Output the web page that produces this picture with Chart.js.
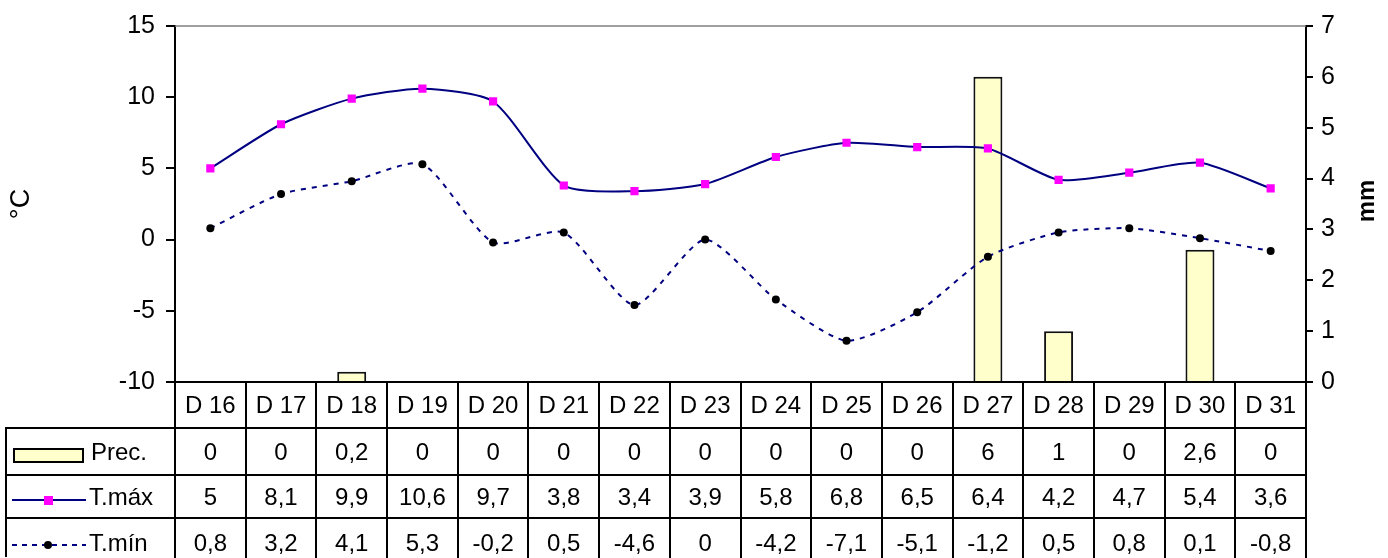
<!DOCTYPE html>
<html>
<head>
<meta charset="utf-8">
<script src="https://cdn.jsdelivr.net/npm/chart.js@4.4.1/dist/chart.umd.min.js"></script>
<style>
  html, body { margin: 0; padding: 0; background: #fff; }
  #wrap { position: relative; width: 1388px; height: 558px; overflow: hidden; }
  #wrap div { position: absolute; }
  #c { position: absolute; left: 0; top: 0; }
  #tbl { left: 0; top: 0; width: 1388px; height: 558px; }
  .txt { font-family: "Liberation Sans", Arial, sans-serif; font-size: 24px; color: #000;
         display: flex; align-items: center; justify-content: center; white-space: nowrap; }
</style>
</head>
<body>
<div id="wrap">
  <canvas id="c" width="1388" height="558"></canvas>
  <div id="tbl"></div>
</div>
<script>
const categories = ["D 16", "D 17", "D 18", "D 19", "D 20", "D 21", "D 22", "D 23",
                    "D 24", "D 25", "D 26", "D 27", "D 28", "D 29", "D 30", "D 31"];
const prec = [0, 0, 0.2, 0, 0, 0, 0, 0, 0, 0, 0, 6, 1, 0, 2.6, 0];
const tMax = [5, 8.1, 9.9, 10.6, 9.7, 3.8, 3.4, 3.9, 5.8, 6.8, 6.5, 6.4, 4.2, 4.7, 5.4, 3.6];
const tMin = [0.8, 3.2, 4.1, 5.3, -0.2, 0.5, -4.6, 0, -4.2, -7.1, -5.1, -1.2, 0.5, 0.8, 0.1, -0.8];
const seriesNames = ["Prec.", "T.máx", "T.mín"];

const FONT = "'Liberation Sans', Arial, sans-serif";
const NAVY = "#000080";
const rowHeights = [46, 47, 43, 50];

function fmt(v) { return String(v).replace(".", ","); }

function el(parent, css, text, cls) {
  const d = document.createElement("div");
  if (cls) d.className = cls;
  Object.assign(d.style, css);
  if (text !== undefined) d.textContent = text;
  parent.appendChild(d);
  return d;
}

// table under the plot, placed from the x scale
const tablePlugin = {
  id: "dataTable",
  afterLayout(chart) {
    const tbl = document.getElementById("tbl");
    tbl.innerHTML = "";
    const x = chart.scales.x;
    const area = chart.chartArea;
    const colW = x.width / categories.length;
    const tops = [area.bottom];
    rowHeights.forEach((h, i) => tops.push(tops[i] + h));
    const leftEdge = 5;

    // vertical lines
    for (let k = 0; k <= categories.length; k++) {
      const bx = Math.round(x.left + k * colW) - 1;
      el(tbl, { left: bx + "px", top: area.bottom + "px", width: "2px", height: (558 - area.bottom) + "px", background: "#000" });
    }
    el(tbl, { left: leftEdge + "px", top: (tops[1] - 1) + "px", width: "2px", height: (558 - tops[1]) + "px", background: "#000" });
    // horizontal lines
    for (let r = 1; r < 4; r++) {
      el(tbl, { left: leftEdge + "px", top: (tops[r] - 1) + "px", width: (x.right - leftEdge + 1) + "px", height: "2px", background: "#000" });
    }

    const rows = [categories, prec.map(fmt), tMax.map(fmt), tMin.map(fmt)];
    rows.forEach((vals, r) => {
      vals.forEach((v, i) => {
        el(tbl, { left: (x.left + i * colW) + "px", top: tops[r] + "px", width: colW + "px", height: rowHeights[r] + "px" }, v, "txt");
      });
    });

    // legend keys
    const mid = r => tops[r] + rowHeights[r] / 2;
    el(tbl, { left: "13px", top: Math.round(mid(1) - 4) + "px", width: "71px", height: "15px", background: "#FFFFCC", border: "2px solid #000", boxSizing: "border-box" });
    el(tbl, { left: "12px", top: Math.round(mid(2) + 2.5) + "px", width: "74px", height: "2px", background: NAVY });
    el(tbl, { left: "44px", top: Math.round(mid(2) - 1) + "px", width: "9px", height: "9px", background: "#FF00FF" });
    el(tbl, { left: "12px", top: Math.round(mid(3) + 1) + "px", width: "74px", height: "2px",
              background: "repeating-linear-gradient(90deg, " + NAVY + " 0 5px, transparent 5px 10px)" });
    el(tbl, { left: "44px", top: Math.round(mid(3) - 2) + "px", width: "8px", height: "8px", background: "#000", borderRadius: "50%" });
    seriesNames.forEach((n, i) => {
      el(tbl, { left: (i === 0 ? 91 : 89) + "px", top: tops[i + 1] + "px", height: rowHeights[i + 1] + "px" }, n, "txt");
    });

    // right axis title
    el(tbl, { left: "1336px", top: "186px", width: "60px", height: "30px", transform: "rotate(-90deg)", fontWeight: "bold" }, "mm", "txt");
  },
  afterDraw(chart) {
    const { ctx, chartArea } = chart;
    ctx.save();
    ctx.strokeStyle = "#808080";
    ctx.lineWidth = 1.5;
    ctx.beginPath();
    ctx.moveTo(chartArea.left, chartArea.top);
    ctx.lineTo(chartArea.right, chartArea.top);
    ctx.stroke();
    ctx.restore();
  }
};

new Chart(document.getElementById("c"), {
  data: {
    labels: categories,
    datasets: [
      {
        type: "line",
        label: seriesNames[1],
        data: tMax,
        yAxisID: "y",
        borderColor: NAVY,
        borderWidth: 2,
        tension: 0.22,
        pointStyle: "rect",
        pointRadius: 5.8,
        pointBackgroundColor: "#FF00FF",
        pointBorderColor: "#FF00FF",
        pointBorderWidth: 0,
        order: 1
      },
      {
        type: "line",
        label: seriesNames[2],
        data: tMin,
        yAxisID: "y",
        borderColor: NAVY,
        borderWidth: 2,
        borderDash: [5, 6],
        tension: 0.22,
        pointStyle: "circle",
        pointRadius: 4,
        pointBackgroundColor: "#000",
        pointBorderColor: "#000",
        pointBorderWidth: 0,
        order: 2
      },
      {
        type: "bar",
        label: seriesNames[0],
        data: prec,
        yAxisID: "y1",
        backgroundColor: "#FFFFCC",
        borderColor: "#111",
        borderWidth: 2,
        categoryPercentage: 1,
        barPercentage: 0.41,
        order: 3
      }
    ]
  },
  options: {
    responsive: false,
    animation: false,
    layout: { padding: { top: 24, left: 0, right: 0, bottom: 0 } },
    plugins: { legend: { display: false }, tooltip: { enabled: false } },
    scales: {
      x: {
        offset: true,
        grid: { display: false },
        ticks: { display: false },
        border: { display: true, color: "#000", width: 2 },
        afterFit(s) { s.height = 176; }
      },
      y: {
        position: "left",
        min: -10,
        max: 15,
        ticks: { stepSize: 5, color: "#000", padding: 11, font: { family: FONT, size: 25 } },
        grid: { drawOnChartArea: false, drawTicks: true, tickLength: 9, color: "#000", lineWidth: 2 },
        border: { display: true, color: "#000", width: 2 },
        title: { display: true, text: "°C", color: "#000", padding: { top: 5, bottom: 4 }, font: { family: FONT, size: 27 } },
        afterFit(s) { s.width = 175; }
      },
      y1: {
        position: "right",
        min: 0,
        max: 7,
        ticks: { stepSize: 1, color: "#000", padding: 8, font: { family: FONT, size: 25 } },
        grid: { drawOnChartArea: false, drawTicks: true, tickLength: 7, color: "#000", lineWidth: 2 },
        border: { display: true, color: "#000", width: 2 },
        afterFit(s) { s.width = 82; }
      }
    }
  },
  plugins: [tablePlugin]
});
</script>
</body>
</html>
